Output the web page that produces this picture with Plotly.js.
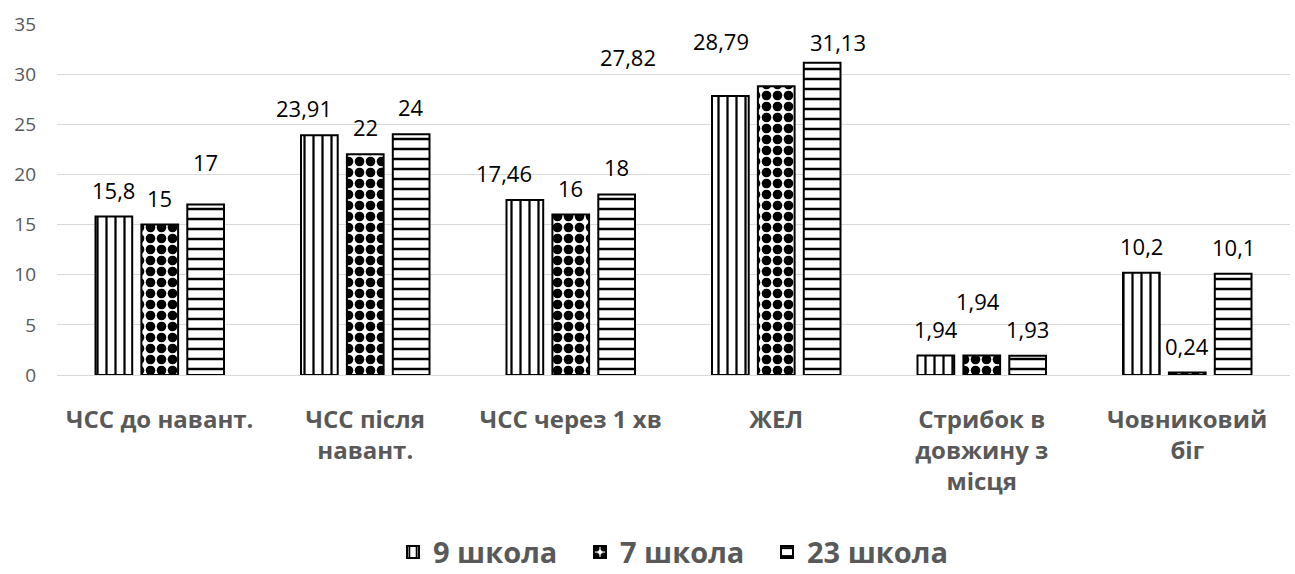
<!DOCTYPE html>
<html>
<head>
<meta charset="utf-8">
<script src="https://cdn.plot.ly/plotly-3.0.1.min.js"></script>
<style>html,body{margin:0;padding:0;background:#fff;}#chart{width:1295px;height:574px;}</style>
</head>
<body>
<div id="chart"></div>
<script>
const categories = ["ЧСС до навант.", "ЧСС після<br>навант.", "ЧСС через 1 хв", "ЖЕЛ", "Стрибок в<br>довжину з<br>місця", "Човниковий<br>біг"];
const seriesNames = ["9 школа", "7 школа", "23 школа"];
const school9 = [15.8, 23.91, 17.46, 27.82, 1.94, 10.2];
const school7 = [15, 22, 16, 28.79, 1.94, 0.24];
const school23 = [17, 24, 18, 31.13, 1.93, 10.1];
const yTicks = [0, 5, 10, 15, 20, 25, 30, 35];

// label nudges (pixels) mimicking the manually placed data labels: key "series-category"
const labelNudge = {
  "2-0": [0, 16], "0-1": [-15, 0], "0-2": [-21, 0],
  "0-3": [-102, 12], "1-3": [-55, 18], "2-3": [16, -6],
  "1-4": [-4, 28]
};

const W = 1295, H = 574, M = {l: 57, r: 5, t: 24, b: 199};
const bargap = 0.33, bargroupgap = 0.2;
const fmt = v => String(v).replace('.', ',');
const patterns = [
  {shape: "|", fgcolor: "#000", bgcolor: "#fff", size: 9, solidity: 0.25, fillmode: "replace"},
  {shape: ".", fgcolor: "#000", bgcolor: "#fff", size: 11, solidity: 0.6, fillmode: "replace"},
  {shape: "-", fgcolor: "#000", bgcolor: "#fff", size: 10, solidity: 0.25, fillmode: "replace"}
];
const allVals = [school9, school7, school23];
const traces = allVals.map((vals, i) => ({
  type: "bar",
  name: seriesNames[i],
  x: categories,
  y: vals,
  marker: {color: "#fff", pattern: patterns[i], line: {color: "#000", width: 2}},
  hoverinfo: "x+y"
}));

const slot = (W - M.l - M.r) / categories.length * (1 - bargap) / allVals.length;
const annotations = [];
allVals.forEach((vals, i) => {
  vals.forEach((v, j) => {
    const n = labelNudge[i + "-" + j] || [0, 0];
    annotations.push({
      x: categories[j], y: v, xref: "x", yref: "y",
      text: fmt(v), showarrow: false,
      xanchor: "center", yanchor: "middle",
      xshift: (i - 1) * slot + n[0], yshift: 27 + n[1],
      font: {family: "Open Sans, sans-serif", size: 22, color: "#000"}
    });
  });
});

const layout = {
  width: W, height: H,
  margin: Object.assign({autoexpand: false}, M),
  paper_bgcolor: "#fff", plot_bgcolor: "#fff",
  separators: ", ",
  bargap: bargap, bargroupgap: bargroupgap,
  showlegend: true,
  annotations: annotations,
  legend: {orientation: "h", x: 0.5, xanchor: "center", y: -0.505, yanchor: "middle",
    font: {family: "Open Sans, sans-serif", size: 29, color: "#595959", weight: "bold"},
    itemwidth: 30, traceorder: "normal", entrywidth: 142, entrywidthmode: "pixels"},
  xaxis: {tickfont: {family: "Open Sans, sans-serif", size: 24, color: "#595959", weight: "bold"},
    showgrid: false, zeroline: false, showline: false, ticks: "", ticklabelstandoff: 28, automargin: false},
  yaxis: {range: [0, 35], tickvals: yTicks, ticktext: yTicks.map(String),
    tickfont: {family: "Open Sans, sans-serif", size: 19, color: "#595959"},
    showgrid: true, gridcolor: "#d9d9d9", gridwidth: 1, zeroline: true, zerolinecolor: "#d9d9d9",
    showline: false, ticks: "", ticklabelstandoff: 20, automargin: false}
};
Plotly.newPlot("chart", traces, layout, {displayModeBar: false, staticPlot: true});
</script>
</body>
</html>
